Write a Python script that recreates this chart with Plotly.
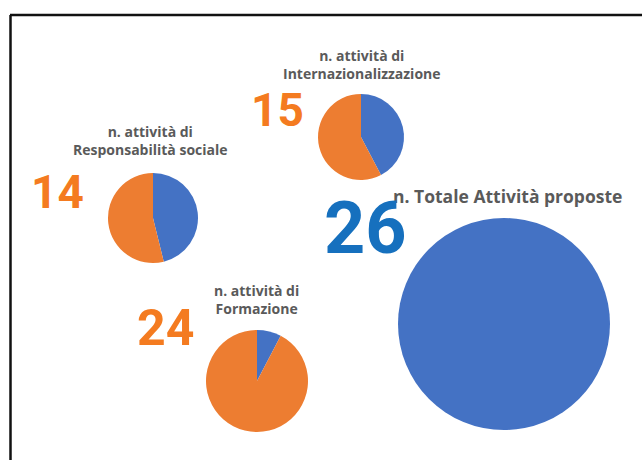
import plotly.graph_objects as go

W, H = 642, 460

# ---- data ----
categories = ["Responsabilità sociale", "Internazionalizzazione", "Formazione", "Totale"]
labels_text = [
    "n. attività di<br>Responsabilità sociale",
    "n. attività di<br>Internazionalizzazione",
    "n. attività di<br>Formazione",
    "n. Totale Attività proposte",
]
counts = [14, 15, 24, 26]
total_activities = 26
slice_names = ["Altre attività", "Attività della categoria"]

# ---- layout (pixel positions) ----
pie_centers = [(153, 218), (361, 137), (257, 381), (504, 324)]
pie_radii = [45, 43, 51, 106]
label_pos = [(150, 140), (362, 65), (256, 299), (507, 196)]
number_pos = [(57, 192), (277, 110), (166, 328), (365, 228)]
number_sizes = [46, 46, 50, 72]
number_colors = ["#F47B20", "#F47B20", "#F47B20", "#1670BE"]
BLUE = "#4472C4"
ORANGE = "#ED7D31"


def px(x):
    return x / W


def py(y):
    return 1 - y / H


fig = go.Figure()
for i, cat in enumerate(categories):
    cx, cy = pie_centers[i]
    r = pie_radii[i]
    n = counts[i]
    if cat == "Totale":
        vals = [n, 0]
    else:
        vals = [total_activities - n, n]
    fig.add_trace(go.Pie(
        labels=slice_names,
        values=vals,
        sort=False,
        direction="clockwise",
        rotation=0,
        marker=dict(colors=[BLUE, ORANGE], line=dict(width=0)),
        textinfo="none",
        hoverinfo="label+value",
        showlegend=False,
        domain=dict(x=[px(cx - r), px(cx + r)], y=[py(cy + r), py(cy - r)]),
        name=cat,
    ))

annotations = []
for i, cat in enumerate(categories):
    lx, ly = label_pos[i]
    annotations.append(dict(
        x=px(lx), y=py(ly), xref="paper", yref="paper",
        text=f"<b>{labels_text[i]}</b>", showarrow=False,
        xanchor="center", yanchor="middle",
        font=dict(family="Open Sans", size=17.5 if cat == "Totale" else 14, color="#5A5A5A"),
    ))
    nx, ny = number_pos[i]
    annotations.append(dict(
        x=px(nx), y=py(ny), xref="paper", yref="paper",
        text=f"<b>{counts[i]}</b>", showarrow=False,
        xanchor="center", yanchor="middle",
        font=dict(family="Roboto", size=number_sizes[i], color=number_colors[i], weight=900),
    ))

shapes = [
    dict(type="line", xref="paper", yref="paper", x0=px(10), x1=1.0, y0=py(15), y1=py(15),
         line=dict(color="#111111", width=2.5)),
    dict(type="line", xref="paper", yref="paper", x0=px(10.5), x1=px(10.5), y0=py(15), y1=0,
         line=dict(color="#111111", width=2.5)),
]

fig.update_layout(
    width=W, height=H,
    margin=dict(l=0, r=0, t=0, b=0),
    paper_bgcolor="white",
    plot_bgcolor="white",
    annotations=annotations,
    shapes=shapes,
    showlegend=False,
)

fig.write_html("out.html")
